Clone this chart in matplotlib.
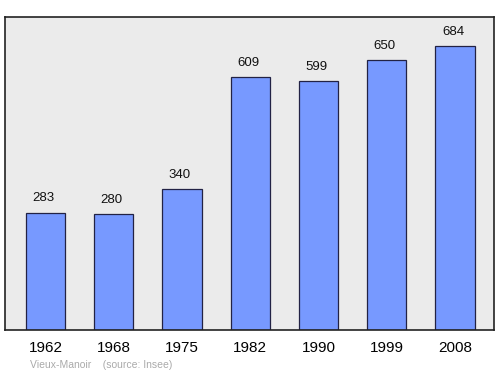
import matplotlib

matplotlib.use("Agg")
import matplotlib.pyplot as plt
import numpy as np

plt.rcParams["font.family"] = ["Liberation Sans", "DejaVu Sans"]

years = ["1962", "1968", "1975", "1982", "1990", "1999", "2008"]
population = [283, 280, 340, 609, 599, 650, 684]

fig = plt.figure(figsize=(5.0, 3.74), dpi=100)
ax = fig.add_axes([0.01, 0.1176, 0.978, 0.837])
ax.set_facecolor("#ebebeb")

x = np.arange(len(years))
ax.bar(x, population, width=0.575, color="#7799ff", edgecolor="#222244", linewidth=0.9)

for xi, val in zip(x, population):
    ax.text(xi - 0.03, val + 34, str(val), ha="center", va="center", fontsize=9.5, color="#111111")

ax.set_xlim(-0.593, 6.57)
ax.set_ylim(0, 754)
ax.set_yticks([])
ax.set_xticks(x, labels=years, fontsize=11)
ax.tick_params(axis="x", length=0, pad=8)
for side in ["top", "right", "left", "bottom"]:
    ax.spines[side].set_color("#222222")
    ax.spines[side].set_linewidth(1.2)

fig.text(0.06, 0.016, "Vieux-Manoir    (source: Insee)", fontsize=7.5, color="#aaaaaa")

fig.savefig("out.png", dpi=100)
